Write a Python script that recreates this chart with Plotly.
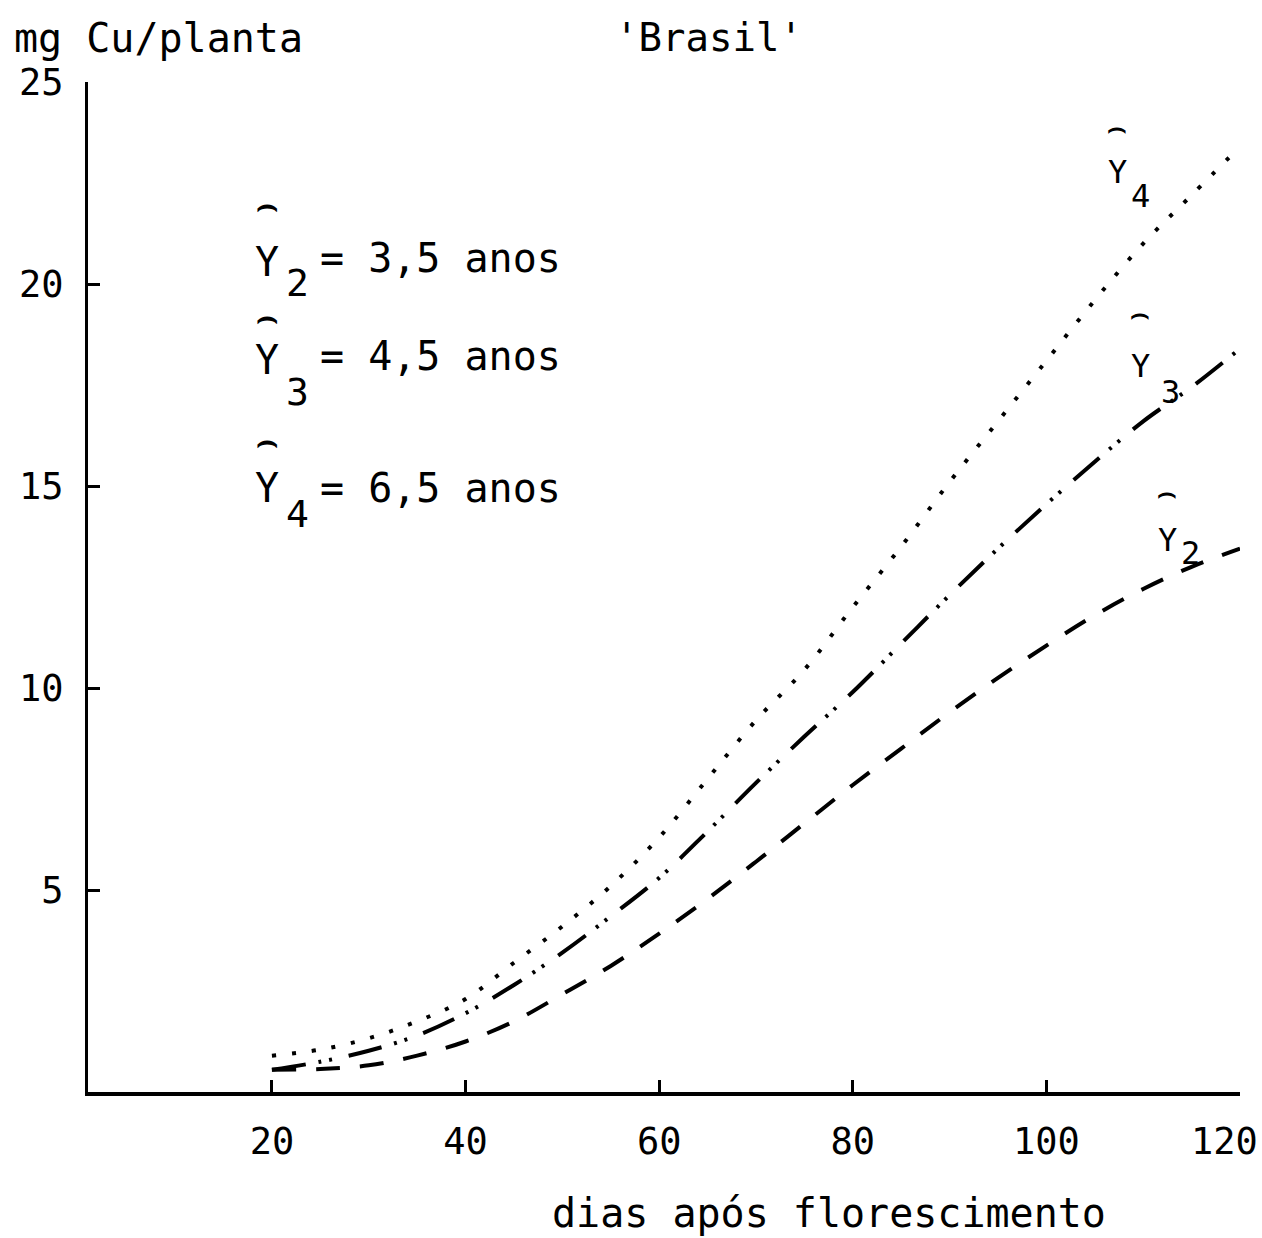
import plotly.graph_objects as go

# ---- data ----
dias = [20, 25, 30, 35, 40, 45, 50, 55, 60, 65, 70, 75, 80, 85, 90, 95, 100, 105, 110, 115, 120]
y2_35anos = [0.55, 0.57, 0.66, 0.90, 1.25, 1.75, 2.42, 3.12, 3.92, 4.78, 5.70, 6.65, 7.60, 8.50, 9.40, 10.25, 11.05, 11.80, 12.45, 13.00, 13.45]
y3_45anos = [0.55, 0.75, 1.02, 1.40, 1.95, 2.65, 3.45, 4.35, 5.30, 6.45, 7.65, 8.80, 9.90, 11.10, 12.30, 13.45, 14.55, 15.60, 16.60, 17.45, 18.40]
y4_65anos = [0.90, 1.05, 1.33, 1.75, 2.30, 3.20, 4.10, 5.10, 6.30, 7.75, 9.20, 10.45, 12.00, 13.50, 15.10, 16.60, 18.10, 19.60, 21.00, 22.20, 23.40]

x_ticks = [20, 40, 60, 80, 100, 120]
x_ticklabels = ["20", "40", "60", "80", "100", "120"]
y_ticks = [5, 10, 15, 20, 25]
y_ticklabels = ["5", "10", "15", "20", "25"]

FONT = "DejaVu Sans Mono"
W, H = 1262, 1238
L, R, T, B = 88, 22, 82, 146
PW, PH = W - L - R, H - T - B


def px(xp, yp):
    return (xp - L) / PW, (H - B - yp) / PH


fig = go.Figure()
fig.add_trace(go.Scatter(x=dias, y=y2_35anos, mode="lines", line=dict(color="black", width=4, dash="24px,20px", shape="spline"), showlegend=False))
fig.add_trace(go.Scatter(x=dias, y=y3_45anos, mode="lines", line=dict(color="black", width=4, dash="34px,13px,3px,8px,3px,17px", shape="spline"), showlegend=False))
fig.add_trace(go.Scatter(x=dias, y=y4_65anos, mode="lines", line=dict(color="black", width=4, dash="4px,16px", shape="spline"), showlegend=False))

ann = []


def text(xp, yp, s, size, xanchor="left"):
    x, y = px(xp, yp)
    ann.append(dict(x=x, y=y, xref="paper", yref="paper", text=s, showarrow=False,
                    xanchor=xanchor, yanchor="middle", font=dict(family=FONT, size=size, color="black")))


# header texts
text(12, 38, "mg Cu/planta", 40)
text(709, 38, "'Brasil'", 39, xanchor="center")
text(829, 1213, "dias após florescimento", 40, xanchor="center")

# last x tick label sits left of its tick in the reference (edge of the page)
text(1224, 1141, x_ticklabels[-1], 37, xanchor="center")
shown_xticklabels = x_ticklabels[:-1] + [""]

# legend block
rows = [("2", "= 3,5 anos", 262, 283, 258, 204),
        ("3", "= 4,5 anos", 360, 392, 356, 316),
        ("4", "= 6,5 anos", 488, 514, 488, 440)]
for sub, rest, yY, ySub, yRest, yHat in rows:
    text(267, yHat, "<b>⌢</b>", 34, xanchor="center")
    text(267, yY, "Y", 40, xanchor="center")
    text(297, ySub, sub, 38, xanchor="center")
    text(318, yRest, rest, 40)

# curve end labels
ends = [("4", 1117, 126, 172, 1140, 196),
        ("3", 1140, 312, 366, 1170, 392),
        ("2", 1167, 491, 540, 1190, 553)]
for sub, xY, yHat, yY, xS, yS in ends:
    text(xY, yHat, "<b>⌢</b>", 30, xanchor="center")
    text(xY, yY, "Y", 32, xanchor="center")
    text(xS, yS, sub, 32, xanchor="center")

fig.update_layout(
    width=W, height=H,
    margin=dict(l=L, r=R, t=T, b=B, pad=0, autoexpand=False),
    paper_bgcolor="white", plot_bgcolor="white",
    annotations=ann,
    xaxis=dict(range=[1, 120], tickvals=x_ticks, ticktext=shown_xticklabels, ticks="inside", ticklen=12,
               tickwidth=3, tickcolor="black", showline=True, linecolor="black", linewidth=3.5,
               showgrid=False, zeroline=False, ticklabelstandoff=14, ticklabeloverflow="allow",
               automargin=False, tickfont=dict(family=FONT, size=37, color="black")),
    yaxis=dict(range=[0, 25], tickvals=y_ticks, ticktext=y_ticklabels, ticks="inside", ticklen=12,
               tickwidth=3, tickcolor="black", showline=True, linecolor="black", linewidth=3,
               showgrid=False, zeroline=False, ticklabelstandoff=14, ticklabeloverflow="allow",
               automargin=False, tickfont=dict(family=FONT, size=37, color="black")),
)

fig.write_html("out.html")
